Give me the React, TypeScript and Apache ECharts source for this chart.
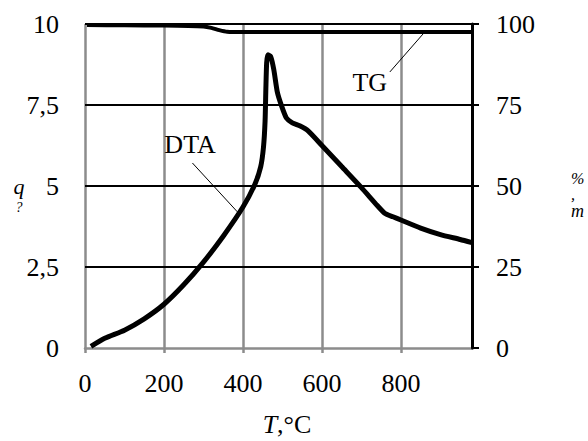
import React, { useEffect, useRef } from "react";
import * as echarts from "echarts";

// Temperature (°C) axis
const tMin = 0;
const tMax = 980;
const tInterval = 200;

// DTA curve (left axis, q)
const dtaT = [15, 50, 100, 150, 200, 250, 300, 350, 400, 430, 445, 452, 456, 458, 460, 463, 470, 478, 487, 497, 510, 525, 545, 565, 600, 650, 700, 740, 760, 780, 800, 850, 900, 950, 980];
const dtaQ = [0.05, 0.3, 0.55, 0.9, 1.35, 1.95, 2.65, 3.45, 4.35, 5.05, 5.6, 6.2, 7.0, 8.0, 8.8, 9.05, 9.0, 8.6, 7.9, 7.5, 7.1, 6.95, 6.85, 6.7, 6.25, 5.6, 4.95, 4.4, 4.15, 4.05, 3.95, 3.7, 3.5, 3.35, 3.25];

// TG curve (right axis, m, %)
const tgT = [5, 100, 200, 300, 320, 340, 360, 400, 600, 800, 980];
const tgM = [99.7, 99.6, 99.5, 99.2, 98.8, 98.1, 97.6, 97.5, 97.5, 97.5, 97.5];

// Axis ranges
const qMax = 10;
const qInterval = 2.5;
const mMax = 100;
const mInterval = 25;

// Annotation anchors (data coordinates)
const dtaLabelAt = [266, 6.27];
const dtaLeader = [[272, 5.71], [386, 4.2]];
const tgLabelAt = [721, 81.8];
const tgLeader = [[772, 85.2], [858, 97.2]];

const FONT = "'Liberation Serif', 'Times New Roman', serif";
const GRAY = "#8c8c8c";

export default function App() {
  const ref = useRef<HTMLDivElement>(null);

  useEffect(() => {
    if (!ref.current) return;
    const chart = echarts.init(ref.current, null, { renderer: "svg" });
    const option: any = {
      animation: false,
      backgroundColor: "#fff",
      grid: { left: 85, right: 116, top: 24, bottom: 93, containLabel: false },
      xAxis: {
        type: "value",
        min: tMin,
        max: tMax,
        interval: tInterval,
        axisLine: { show: true, lineStyle: { color: GRAY, width: 2.5 } },
        axisTick: { show: true, length: 5, lineStyle: { color: GRAY, width: 2.5 } },
        splitLine: { show: true, lineStyle: { color: GRAY, width: 2.5 } },
        axisLabel: {
          color: "#000",
          fontFamily: FONT,
          fontSize: 26,
          margin: 22,
          showMaxLabel: false,
          formatter: (v: number) => (v % tInterval === 0 ? String(v) : ""),
        },
      },
      yAxis: [
        {
          type: "value",
          position: "left",
          min: 0,
          max: qMax,
          interval: qInterval,
          z: 1,
          axisLine: { show: false },
          axisTick: { show: false },
          splitLine: { show: true, showMinLine: false, lineStyle: { color: "#000", width: 2 } },
          axisLabel: {
            color: "#000",
            fontFamily: FONT,
            fontSize: 26,
            margin: 26,
            formatter: (v: number) => String(v).replace(".", ","),
          },
        },
        {
          type: "value",
          position: "right",
          min: 0,
          max: mMax,
          interval: mInterval,
          z: 1,
          axisLine: { show: true, lineStyle: { color: "#000", width: 3 } },
          axisTick: { show: true, length: 7, lineStyle: { color: "#000", width: 2 } },
          splitLine: { show: false },
          axisLabel: {
            color: "#000",
            fontFamily: FONT,
            fontSize: 26,
            margin: 24,
          },
        },
      ],
      series: [
        {
          type: "line",
          name: "DTA",
          xAxisIndex: 0,
          yAxisIndex: 0,
          data: dtaT.map((t, i) => [t, dtaQ[i]]),
          showSymbol: false,
          smooth: 0.2,
          lineStyle: { color: "#000", width: 5 },
          markLine: {
            silent: true,
            symbol: "none",
            label: { show: false },
            lineStyle: { color: "#000", width: 1, type: "solid" },
            data: [[{ coord: dtaLeader[0] }, { coord: dtaLeader[1] }]],
          },
        },
        {
          type: "line",
          name: "TG",
          xAxisIndex: 0,
          yAxisIndex: 1,
          data: tgT.map((t, i) => [t, tgM[i]]),
          showSymbol: false,
          smooth: 0.2,
          lineStyle: { color: "#000", width: 4 },
          markLine: {
            silent: true,
            symbol: "none",
            label: { show: false },
            lineStyle: { color: "#000", width: 1, type: "solid" },
            data: [[{ coord: tgLeader[0] }, { coord: tgLeader[1] }]],
          },
        },
      ],
    };
    chart.setOption(option);

    const pDta = chart.convertToPixel({ xAxisIndex: 0, yAxisIndex: 0 }, dtaLabelAt) as number[];
    const pTg = chart.convertToPixel({ xAxisIndex: 0, yAxisIndex: 1 }, tgLabelAt) as number[];

    chart.setOption({
      graphic: [
        {
          type: "text",
          x: pDta[0],
          y: pDta[1],
          style: { text: "DTA", fill: "#000", font: `26px ${FONT}`, textAlign: "center", textVerticalAlign: "middle" },
        },
        {
          type: "text",
          x: pTg[0],
          y: pTg[1],
          style: { text: "TG", fill: "#000", font: `26px ${FONT}`, textAlign: "center", textVerticalAlign: "middle" },
        },
        {
          type: "text",
          x: 287,
          y: 424,
          style: {
            text: "{i|T},°C",
            fill: "#000",
            font: `26px ${FONT}`,
            textAlign: "center",
            textVerticalAlign: "middle",
            rich: { i: { fontStyle: "italic", fontFamily: FONT, fontSize: 26 } },
          },
        },
        {
          type: "text",
          x: 19,
          y: 194,
          style: {
            text: "{q|q}\n{s|?}",
            fill: "#000",
            textAlign: "center",
            textVerticalAlign: "middle",
            rich: {
              q: { fontStyle: "italic", fontFamily: FONT, fontSize: 22, lineHeight: 26, align: "center" },
              s: { fontStyle: "italic", fontFamily: FONT, fontSize: 14, lineHeight: 16, align: "center" },
            },
          },
        },
        {
          type: "text",
          x: 571,
          y: 195,
          style: {
            text: "{p|%}\n{c|,}\n{m|m}",
            fill: "#000",
            textAlign: "left",
            textVerticalAlign: "middle",
            rich: {
              p: { fontStyle: "italic", fontFamily: FONT, fontSize: 16, lineHeight: 16 },
              c: { fontStyle: "italic", fontFamily: FONT, fontSize: 16, lineHeight: 16 },
              m: { fontStyle: "italic", fontFamily: FONT, fontSize: 18, lineHeight: 18 },
            },
          },
        },
      ],
    });

    return () => chart.dispose();
  }, []);

  return (
    <div
      ref={ref}
      style={{ position: "absolute", left: 0, top: 0, width: 588, height: 441 }}
    />
  );
}
